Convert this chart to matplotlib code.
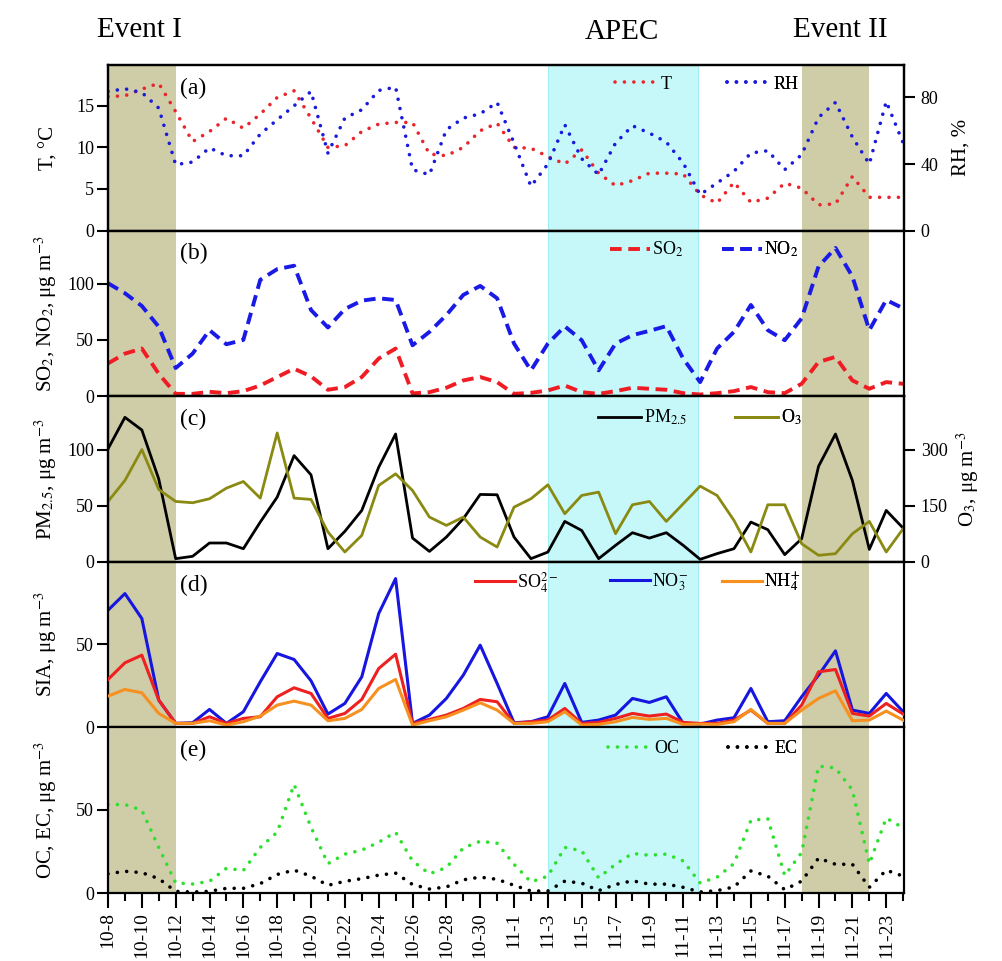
import matplotlib
matplotlib.use("Agg")
import matplotlib.pyplot as plt
import numpy as np

plt.rcParams['font.family'] = ['Liberation Serif', 'DejaVu Serif']
plt.rcParams['mathtext.fontset'] = 'stix'

# ---------------- data (daily, 10-8 ... 11-24) ----------------
dates = ['10-8', '10-9', '10-10', '10-11', '10-12', '10-13', '10-14', '10-15', '10-16', '10-17',
         '10-18', '10-19', '10-20', '10-21', '10-22', '10-23', '10-24', '10-25', '10-26', '10-27',
         '10-28', '10-29', '10-30', '10-31', '11-1', '11-2', '11-3', '11-4', '11-5', '11-6',
         '11-7', '11-8', '11-9', '11-10', '11-11', '11-12', '11-13', '11-14', '11-15', '11-16',
         '11-17', '11-18', '11-19', '11-20', '11-21', '11-22', '11-23', '11-24']

T = [16.1, 16.2, 17.0, 17.7, 14.3, 10.7, 11.9, 13.5, 12.3, 14.0,
     16.0, 16.8, 13.5, 10.0, 10.2, 11.9, 12.8, 13.0, 13.0, 9.2,
     9.0, 10.0, 12.0, 12.9, 10.0, 9.9, 8.9, 8.0, 9.7, 6.9,
     5.4, 6.0, 6.9, 6.9, 6.8, 4.3, 3.3, 5.8, 3.4, 3.9,
     5.7, 5.1, 3.1, 3.2, 6.5, 4.0, 4.0, 4.0]
RH = [83.6, 85.2, 83.0, 73.6, 39.6, 41.2, 49.7, 45.0, 45.0, 58.0,
      66.6, 75.0, 83.6, 46.6, 67.6, 72.6, 84.2, 86.2, 36.6, 33.6,
      60.6, 67.6, 70.2, 77.0, 52.6, 26.6, 40.0, 63.6, 43.2, 33.6,
      52.6, 63.0, 58.6, 53.2, 40.6, 21.6, 28.6, 35.6, 46.6, 48.0,
      36.6, 45.6, 68.0, 77.0, 56.2, 40.0, 77.6, 52.6]

SO2 = [29.1, 37.8, 42.3, 19.9, 2.1, 2.1, 3.9, 2.7, 4.5, 9.5,
       17.0, 24.4, 17.6, 5.7, 8.1, 17.0, 33.4, 42.3, 2.5, 3.6,
       7.5, 14.0, 17.0, 12.5, 2.1, 3.0, 5.1, 9.5, 3.6, 2.1,
       4.5, 7.5, 6.6, 5.7, 2.7, 1.5, 2.7, 4.5, 8.1, 3.6,
       2.7, 11.0, 30.4, 34.9, 14.0, 6.6, 12.5, 11.0]
NO2 = [100.3, 91.4, 80.1, 61.6, 25.0, 37.8, 58.6, 46.1, 50.0, 103.3,
       112.8, 115.8, 76.5, 61.0, 77.4, 84.8, 86.9, 85.4, 45.2, 57.1,
       72.0, 89.9, 97.9, 86.9, 46.7, 22.9, 46.7, 62.0, 49.7, 22.9,
       46.7, 54.2, 58.0, 62.2, 33.3, 12.5, 42.3, 57.1, 81.0, 58.6,
       49.7, 69.1, 115.2, 131.6, 106.3, 58.6, 85.4, 78.0]

PM25 = [100.9, 129.1, 117.8, 74.0, 2.8, 4.9, 16.8, 16.8, 11.7, 35.5,
        57.8, 94.9, 77.7, 11.7, 27.2, 45.9, 84.5, 114.2, 21.2, 9.3,
        22.1, 38.5, 60.2, 59.9, 22.1, 2.8, 8.7, 36.1, 28.0, 2.8,
        14.7, 26.0, 21.2, 26.0, 14.7, 2.2, 7.3, 11.7, 35.5, 28.7,
        6.4, 20.6, 85.4, 114.2, 72.6, 11.1, 45.9, 30.1]
O3 = [161.8, 218.0, 300.9, 193.9, 161.8, 158.3, 169.0, 197.5, 215.3, 170.7,
      345.5, 170.7, 167.2, 79.8, 26.3, 70.8, 204.6, 235.8, 191.2, 119.9,
      97.6, 119.9, 66.4, 39.6, 146.6, 169.0, 206.4, 128.8, 177.9, 186.8,
      75.3, 152.9, 161.8, 108.3, 155.6, 202.9, 177.9, 111.0, 26.3, 152.9,
      152.9, 48.6, 17.4, 21.8, 75.3, 108.3, 26.3, 88.7]

SO4 = [28.8, 38.8, 43.4, 16.4, 2.4, 2.4, 6.4, 2.4, 5.4, 6.4,
       18.4, 23.8, 20.4, 5.4, 8.4, 16.8, 35.4, 44.0, 2.4, 4.8,
       7.4, 11.4, 16.8, 15.4, 2.4, 3.4, 4.4, 11.4, 2.4, 3.0,
       5.4, 8.4, 6.8, 8.0, 3.0, 2.4, 2.4, 4.4, 10.4, 2.4,
       2.4, 13.4, 33.4, 34.8, 8.4, 6.8, 14.4, 8.0]
NO3 = [70.4, 80.4, 65.4, 16.4, 2.4, 2.8, 10.8, 2.4, 9.4, 27.4,
       44.4, 40.8, 28.0, 8.0, 14.4, 30.4, 68.4, 89.4, 2.4, 7.4,
       17.4, 31.4, 49.4, 26.4, 2.8, 3.4, 6.4, 26.4, 3.0, 4.4,
       7.4, 17.4, 15.0, 18.4, 2.4, 2.0, 4.4, 5.8, 23.4, 3.4,
       4.0, 18.4, 31.4, 46.0, 10.4, 8.4, 20.4, 9.4]
NH4 = [18.8, 22.8, 20.8, 8.4, 2.4, 2.4, 4.0, 1.4, 3.4, 6.8,
       13.4, 15.8, 13.4, 4.0, 5.4, 10.8, 23.4, 28.8, 1.4, 4.0,
       6.4, 10.4, 14.8, 10.4, 2.4, 2.4, 3.4, 9.4, 1.4, 1.8,
       3.4, 6.0, 4.8, 5.4, 1.8, 2.0, 1.8, 3.4, 10.8, 2.4,
       2.4, 10.4, 17.4, 22.0, 4.0, 4.4, 9.8, 4.4]

OC = [53.0, 53.0, 49.6, 27.3, 6.0, 5.4, 7.0, 14.8, 13.5, 27.3,
      36.4, 65.0, 39.4, 17.6, 23.3, 25.7, 30.4, 36.4, 19.2, 11.5,
      15.2, 27.0, 31.0, 29.8, 17.2, 6.6, 10.1, 27.3, 25.3, 9.1,
      17.2, 23.7, 22.6, 23.3, 19.2, 6.0, 9.5, 17.6, 43.5, 44.5,
      10.5, 24.2, 76.0, 74.9, 61.7, 17.5, 44.9, 39.0]
EC = [11.5, 13.0, 12.2, 8.6, 1.0, 0.6, 1.0, 2.8, 2.8, 5.6,
      11.1, 13.7, 10.1, 4.6, 7.0, 8.6, 10.7, 11.9, 5.1, 2.4,
      3.6, 7.9, 9.5, 8.2, 4.6, 1.2, 1.2, 7.1, 5.9, 1.4,
      5.1, 7.3, 5.3, 5.3, 3.4, 0.6, 1.4, 3.6, 13.2, 10.1,
      2.0, 7.1, 20.9, 17.2, 17.2, 3.4, 13.7, 10.1]

# shaded periods (day index)
event1 = (0, 4)
apec = (26, 34.9)
event2 = (41, 45)

x = np.arange(len(dates))

# ---------------- figure ----------------
W, H = 1003, 961
fig = plt.figure(figsize=(W / 100, H / 100), dpi=100)
left_px, right_px, top_px, bot_px = 108, 904, 65, 893
ph = (bot_px - top_px) / 5.0

axes = []
for k in range(5):
    b = 1 - (top_px + (k + 1) * ph) / H
    ax = fig.add_axes([left_px / W, b, (right_px - left_px) / W, ph / H])
    axes.append(ax)

EV_COL = '#cfcca8'
AP_COL = '#c6f8fa'
TFS = 13
LFS = 15

def style(ax):
    for s in ax.spines.values():
        s.set_linewidth(1.6)
    ax.tick_params(axis='y', direction='out', length=8, width=1.5, labelsize=TFS, pad=2)
    ax.set_xlim(0, 47.05)
    ax.axvspan(*event1, color=EV_COL, lw=0, zorder=0)
    ax.axvspan(*apec, color=AP_COL, lw=0, zorder=0)
    ax.axvline(apec[0], color='#9eeef2', lw=0.8, zorder=0)
    ax.axvline(apec[1], color='#9eeef2', lw=0.8, zorder=0)
    ax.axvspan(*event2, color=EV_COL, lw=0, zorder=0)

def entry(ax, h, label, xa, ya, hl=2.4):
    leg = ax.legend([h], [label], loc='center left', bbox_to_anchor=(xa, ya),
                    bbox_transform=ax.transAxes, frameon=False, borderpad=0,
                    borderaxespad=0, handlelength=hl, handletextpad=0.15,
                    fontsize=TFS)
    ax.add_artist(leg)

def xa(px):
    return (px - left_px) / (right_px - left_px)

dot = (0, (0.01, 2.6))
dash = (0, (3.0, 1.7))

# (a) T and RH
ax = axes[0]
style(ax)
lT, = ax.plot(x, T, color='#e8262b', lw=2.6, linestyle=dot, dash_capstyle='round')
ax.set_ylim(0, 19.9)
ax.set_yticks([0, 5, 10, 15])
ax.set_ylabel('T, \u00b0C', fontsize=LFS)
axr = ax.twinx()
lRH, = axr.plot(x, RH, color='#1a1adc', lw=2.6, linestyle=dot, dash_capstyle='round')
axr.set_ylim(0, 99.5)
axr.set_yticks([0, 40, 80])
axr.tick_params(axis='y', direction='out', length=8, width=1.5, labelsize=TFS, pad=4)
for s in axr.spines.values():
    s.set_linewidth(1.6)
axr.set_ylabel('RH, %', fontsize=LFS)
axr.yaxis.set_label_coords(1.06, 0.5)
entry(axr, lT, 'T', xa(615), 0.885)
entry(axr, lRH, 'RH', xa(727), 0.885)
ax.text(0.09, 0.86, '(a)', transform=ax.transAxes, fontsize=17, va='center')

# (b) SO2, NO2
ax = axes[1]
style(ax)
lSO2, = ax.plot(x, SO2, color='#f01c24', lw=2.8, linestyle=dash)
lNO2, = ax.plot(x, NO2, color='#1a1ae6', lw=2.8, linestyle=dash)
ax.set_ylim(0, 147)
ax.set_yticks([0, 50, 100])
ax.set_ylabel('SO$_2$, NO$_2$, \u03bcg m$^{-3}$', fontsize=LFS)
entry(ax, lSO2, 'SO$_2$', xa(610), 0.885, hl=2.2)
entry(ax, lNO2, 'NO$_2$', xa(722), 0.885, hl=2.2)
ax.text(0.09, 0.86, '(b)', transform=ax.transAxes, fontsize=17, va='center')

# (c) PM2.5, O3
ax = axes[2]
style(ax)
lPM, = ax.plot(x, PM25, color='black', lw=2.0)
ax.set_ylim(0, 148)
ax.set_yticks([0, 50, 100])
ax.set_ylabel('PM$_{2.5}$, \u03bcg m$^{-3}$', fontsize=LFS)
axr2 = ax.twinx()
lO3, = axr2.plot(x, O3, color='#8a8a12', lw=2.0)
axr2.set_ylim(0, 444)
axr2.set_yticks([0, 150, 300])
axr2.tick_params(axis='y', direction='out', length=8, width=1.5, labelsize=TFS, pad=4)
for s in axr2.spines.values():
    s.set_linewidth(1.6)
axr2.set_ylabel('O$_3$, \u03bcg m$^{-3}$', fontsize=LFS)
axr2.yaxis.set_label_coords(1.064, 0.5)
entry(axr2, lPM, 'PM$_{2.5}$', xa(598), 0.87)
entry(axr2, lO3, 'O$_3$', xa(735), 0.87)
ax.text(0.09, 0.86, '(c)', transform=ax.transAxes, fontsize=17, va='center')

# (d) SIA
ax = axes[3]
style(ax)
lSO4, = ax.plot(x, SO4, color='#ee2020', lw=2.2, zorder=3)
lNO3, = ax.plot(x, NO3, color='#1616e0', lw=2.2, zorder=2)
lNH4, = ax.plot(x, NH4, color='#f7901e', lw=2.2, zorder=4)
ax.set_ylim(0, 99.5)
ax.set_yticks([0, 50])
ax.set_ylabel('SIA, \u03bcg m$^{-3}$', fontsize=LFS)
entry(ax, lSO4, 'SO$_4^{2-}$', xa(475), 0.875, hl=2.2)
entry(ax, lNO3, 'NO$_3^{-}$', xa(610), 0.875, hl=2.2)
entry(ax, lNH4, 'NH$_4^{+}$', xa(722), 0.875, hl=2.2)
ax.text(0.09, 0.86, '(d)', transform=ax.transAxes, fontsize=17, va='center')

# (e) OC, EC
ax = axes[4]
style(ax)
lOC, = ax.plot(x, OC, color='#2ee02e', lw=2.6, linestyle=dot, dash_capstyle='round')
lEC, = ax.plot(x, EC, color='black', lw=2.6, linestyle=dot, dash_capstyle='round')
ax.set_ylim(0, 99.2)
ax.set_yticks([0, 50])
ax.set_ylabel('OC, EC, \u03bcg m$^{-3}$', fontsize=LFS)
entry(ax, lOC, 'OC', xa(608), 0.87)
entry(ax, lEC, 'EC', xa(728), 0.87)
ax.text(0.09, 0.86, '(e)', transform=ax.transAxes, fontsize=17, va='center')

for ax in axes:
    ax.yaxis.set_label_coords(-0.062, 0.5)

for ax in axes[:4]:
    ax.tick_params(axis='x', which='both', bottom=False, labelbottom=False)

ax = axes[4]
ax.set_xticks(x[::2])
ax.set_xticklabels(dates[::2], rotation=90, fontsize=14)
ax.set_xticks(x[1::2], minor=True)
ax.tick_params(axis='x', which='major', direction='out', length=11, width=1.5, pad=3)
ax.tick_params(axis='x', which='minor', direction='out', length=6, width=1.5)

fig.text(97 / W, 1 - 30 / H, 'Event I', fontsize=21, va='center', ha='left')
fig.text(622 / W, 1 - 32 / H, 'APEC', fontsize=21, va='center', ha='center')
fig.text(840 / W, 1 - 30 / H, 'Event II', fontsize=21, va='center', ha='center')

fig.savefig('out.png', dpi=100)
